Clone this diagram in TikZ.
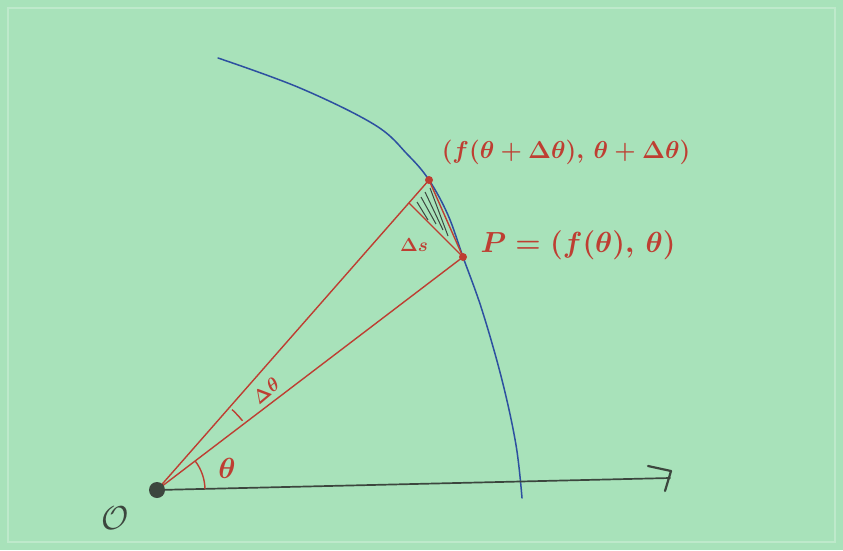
\documentclass[tikz,border=0pt]{standalone}
\usepackage{amsmath}
\definecolor{bg}{RGB}{168,226,186}
\definecolor{pen}{RGB}{190,62,50}
\definecolor{ink}{RGB}{45,80,160}
\definecolor{dark}{RGB}{60,70,62}
\tikzset{
  redline/.style={draw=pen, line width=1.4pt, line cap=round},
  lbl/.style={text=pen, inner sep=0pt},
}
\begin{document}
\begin{tikzpicture}[x=1pt,y=-1pt]
\fill[bg] (0,0) rectangle (843,550);
\useasboundingbox (0,0) rectangle (843,550);
\draw[white!25!bg, line width=1.5pt] (8,8) rectangle (835,542);
% points
\coordinate (O) at (157,490);
\coordinate (Q) at (429,180);
\coordinate (P) at (463,257);
\coordinate (R) at (409,203);
\coordinate (axend) at (670,478);
% blue curve
\draw[ink, line width=1.5pt, line cap=round] plot[smooth, tension=0.6] coordinates {(218,58) (300,88) (375,125) (408,155) (429,180) (448,215) (463,257) (482,310) (502,380) (516,445) (522,498)};
% axis
\draw[dark, line width=1.7pt, line cap=round] (O) -- (axend);
\draw[dark, line width=2.2pt, line cap=round, line join=round] (648,466) -- (671,471) -- (665,491);
% red rays
\draw[redline] (O) -- (Q);
\draw[redline] (O) -- (P);
\draw[redline] (Q) -- (P);
\draw[redline] (R) -- (P);
% hatching
\foreach \a/\b in {{(417,202)/(428,220)},{(421,197)/(436,224)},{(425,192)/(443,230)},{(430,188)/(448,236)}}
  \draw[dark, line width=1pt] \a -- \b;
% dots
\fill[pen] (Q) circle (4);
\fill[pen] (P) circle (4);
\fill[dark] (O) circle (8);
% angle arcs
\draw[pen, line width=1.4pt] (205,489) arc[start angle=-1.3, end angle=-37.3, radius=48];
\draw[pen, line width=1.4pt] (O) ++(-39:110) arc[start angle=-39, end angle=-47, radius=110];
% labels
\node[lbl, font=\huge\boldmath, scale=1.18] (lq) at (566,152) {$(f(\theta+\Delta\theta),\,\theta+\Delta\theta)$};
\node[lbl, font=\huge\boldmath, scale=1.4] (lp) at (578,245) {$P=(f(\theta),\,\theta)$};
\node[lbl, font=\LARGE\boldmath, scale=1.1] (ls) at (414,245) {$\Delta s$};
\node[lbl, font=\LARGE\boldmath, scale=1.1, rotate=40] (ldt) at (266,391) {$\Delta\theta$};
\node[lbl, font=\huge\boldmath, scale=1.4] (lt) at (227,468) {$\theta$};
\node[text=dark, inner sep=0pt, font=\huge, scale=1.6] (lo) at (115,518) {$\mathcal{O}$};
\end{tikzpicture}
\end{document}
